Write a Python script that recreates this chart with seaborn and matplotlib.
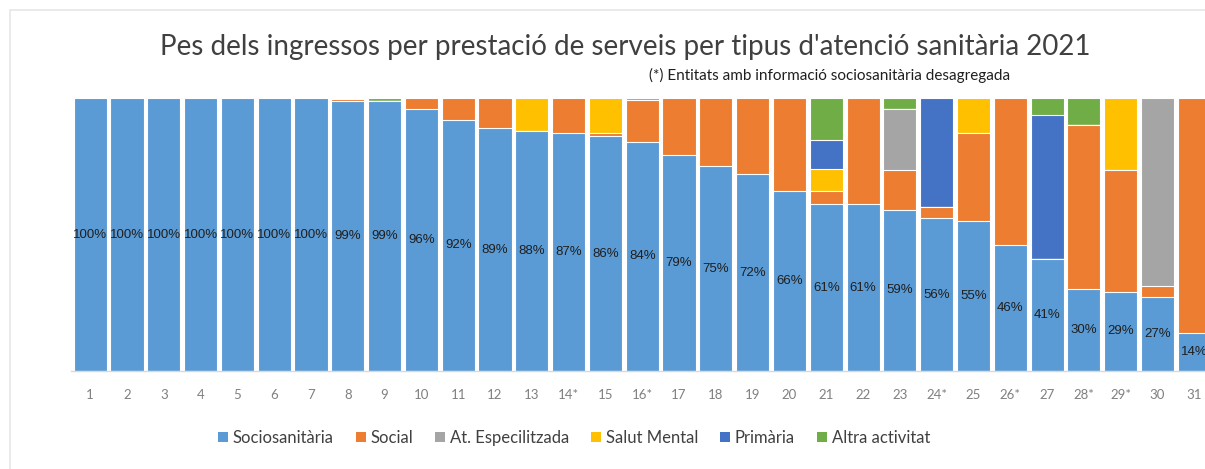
import numpy as np
import pandas as pd
import matplotlib
matplotlib.use("Agg")
import matplotlib.pyplot as plt
from matplotlib.patches import Patch, Rectangle
import seaborn as sns

categories = ["1", "2", "3", "4", "5", "6", "7", "8", "9", "10", "11", "12", "13", "14*",
              "15", "16*", "17", "18", "19", "20", "21", "22", "23", "24*", "25", "26*",
              "27", "28*", "29*", "30", "31"]

sociosanitaria = [100, 100, 100, 100, 100, 100, 100, 99, 99, 96, 92, 89, 88, 87, 86, 84,
                  79, 75, 72, 66, 61, 61, 59, 56, 55, 46, 41, 30, 29, 27, 14]
social = [0, 0, 0, 0, 0, 0, 0, 0.6, 0, 4, 8, 11, 0, 13, 1, 15.2,
          21, 25, 28, 34, 5, 39, 14.5, 4, 32, 54, 0, 60, 44.5, 4, 86]
especialitzada = [0, 0, 0, 0, 0, 0, 0, 0, 0, 0, 0, 0, 0, 0, 0, 0,
                  0, 0, 0, 0, 0, 0, 22.5, 0, 0, 0, 0, 0, 0, 69, 0]
salut_mental = [0, 0, 0, 0, 0, 0, 0, 0, 0, 0, 0, 0, 12, 0, 13, 0,
                0, 0, 0, 0, 8, 0, 0, 0, 13, 0, 0, 0, 26.5, 0, 0]
primaria = [0, 0, 0, 0, 0, 0, 0, 0, 0, 0, 0, 0, 0, 0, 0, 0,
            0, 0, 0, 0, 10.5, 0, 0, 40, 0, 0, 52.7, 0, 0, 0, 0]
altra = [0, 0, 0, 0, 0, 0, 0, 0.4, 1, 0, 0, 0, 0, 0, 0, 0.8,
         0, 0, 0, 0, 15.5, 0, 4, 0, 0, 0, 6.3, 10, 0, 0, 0]

series_names = ["Sociosanitària", "Social", "At. Especilitzada", "Salut Mental", "Primària", "Altra activitat"]
series_values = [sociosanitaria, social, especialitzada, salut_mental, primaria, altra]
colors = ["#5B9BD5", "#ED7D31", "#A5A5A5", "#FFC000", "#4472C4", "#70AD47"]

title = "Pes dels ingressos per prestació de serveis per tipus d'atenció sanitària 2021"
subtitle = "(*) Entitats amb informació sociosanitària desagregada"

df = pd.DataFrame({n: v for n, v in zip(series_names, series_values)}, index=categories)
cum = df.cumsum(axis=1)

sns.set_theme(style="white")
narrow = ["Lato", "DejaVu Sans"]
plt.rcParams["font.family"] = ["Liberation Sans", "DejaVu Sans"]

W, H = 1205, 469
fig = plt.figure(figsize=(W / 100, H / 100), dpi=100)
ax = fig.add_axes([71 / W, (H - 371) / H, (1205 - 71) / W, 273 / H])

# stacked bars drawn as cumulative overlays (top layer first)
for name, col in reversed(list(zip(series_names, colors))):
    d = pd.DataFrame({"cat": categories, "val": cum[name].values})
    sns.barplot(data=d, x="cat", y="val", order=categories, color=col,
                width=0.9, saturation=1, edgecolor="white", linewidth=0.8, ax=ax)

# percentage labels centred in the Sociosanitària segment
for i, v in enumerate(sociosanitaria):
    ax.text(i, v / 2, f"{v:.0f}%", ha="center", va="center", fontsize=9.5,
            color="#1f1f1f", family=["Liberation Sans", "DejaVu Sans"])

ax.set_ylim(0, 100)
ax.set_xlim(-0.52, 30.29)
ax.set_xlabel("")
ax.set_ylabel("")
ax.set_yticks([])
for s in ["top", "right", "left"]:
    ax.spines[s].set_visible(False)
ax.spines["bottom"].set_color("#d9d9d9")
ax.spines["bottom"].set_linewidth(1.0)
ax.tick_params(axis="x", length=0, pad=13, labelsize=9.5, labelcolor="#808080")
for lab in ax.get_xticklabels():
    lab.set_family(["Lato", "DejaVu Sans"])

fig.text(625 / W, 1 - 47 / H, title, ha="center", va="center", fontsize=20,
         color="#404040", family=narrow)
fig.text(830 / W, 1 - 75 / H, subtitle, ha="center", va="center", fontsize=11,
         color="#1f1f1f", family=narrow)

handles = [Patch(facecolor=c, edgecolor="none", label=n) for n, c in zip(series_names, colors)]
fig.legend(handles=handles, loc="center", bbox_to_anchor=(574 / W, 1 - 438 / H), ncol=6,
           frameon=False, handlelength=0.6, handleheight=0.6,
           handletextpad=0.3, columnspacing=1.3, labelcolor="#404040",
           prop={"family": narrow, "size": 12})

fig.patches.append(Rectangle((10 / W, -0.1), 1.2, 1 - 10 / H + 0.1, transform=fig.transFigure,
                             fill=False, edgecolor="#e6e6e6", linewidth=1.2, zorder=-1))

fig.savefig("out.png", dpi=100, facecolor="white")
